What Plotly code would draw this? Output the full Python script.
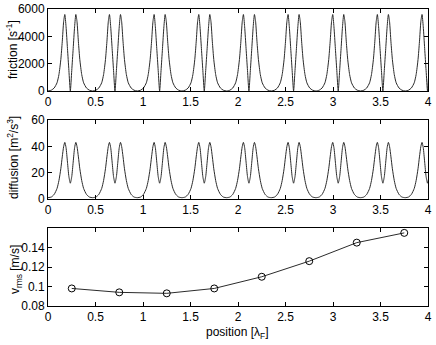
import plotly.graph_objects as go

# DATA
# cusp (sharp minimum between twin peaks) positions, in units of lambda_F
cusp_x = [0.235, 0.705, 1.175, 1.645, 2.115, 2.585, 3.055, 3.525, 3.995]
# distance from a cusp and the curve value there (same on both sides)
offset = [0, 0.015, 0.03, 0.045, 0.058, 0.07, 0.085, 0.10, 0.12, 0.14, 0.17, 0.20, 0.235]
friction_profile = [0, 1500, 3100, 4700, 5600, 5100, 3600, 2300, 1200, 600, 220, 60, 0]
diffusion_profile = [12, 17, 28, 39, 43, 40, 32, 23, 14, 8, 3.5, 1.5, 1]

position = [0.25, 0.75, 1.25, 1.75, 2.25, 2.75, 3.25, 3.75]
v_rms = [0.098, 0.094, 0.093, 0.098, 0.110, 0.126, 0.145, 0.155]

x_ticks = [0, 0.5, 1, 1.5, 2, 2.5, 3, 3.5, 4]
friction_ticks = [0, 2000, 4000, 6000]
diffusion_ticks = [0, 20, 40, 60]
vrms_ticks = [0.08, 0.1, 0.12, 0.14]


def build_curve(profile):
    xs, ys = [], []
    for i, c in enumerate(cusp_x):
        left = list(zip(offset, profile))[::-1]
        if i > 0:
            left = left[1:]  # shared broad minimum with previous period
        for d, v in left:
            xs.append(c - d)
            ys.append(v)
        for d, v in list(zip(offset, profile))[1:]:
            xs.append(c + d)
            ys.append(v)
    return xs, ys


fx, fy = build_curve(friction_profile)
dx, dy = build_curve(diffusion_profile)

W, H = 436, 345
line_col = "#2b2b2b"

fig = go.Figure()
fig.add_trace(go.Scatter(x=fx, y=fy, mode="lines", line=dict(color=line_col, width=1, shape="spline", smoothing=0.6),
                         xaxis="x", yaxis="y"))
fig.add_trace(go.Scatter(x=dx, y=dy, mode="lines", line=dict(color=line_col, width=1, shape="spline", smoothing=0.6),
                         xaxis="x2", yaxis="y2"))
fig.add_trace(go.Scatter(x=position, y=v_rms, mode="lines+markers",
                         line=dict(color=line_col, width=1),
                         marker=dict(symbol="circle-open", size=7, color="black", line=dict(width=1)),
                         xaxis="x3", yaxis="y3"))

xdom = [48 / W, 428 / W]


def ydom(top, bottom):
    return [1 - bottom / H, 1 - top / H]


ax_common = dict(showline=True, linecolor="black", linewidth=1, mirror="ticks", ticks="inside",
                 ticklen=4, tickcolor="black", showgrid=False, zeroline=False,
                 tickfont=dict(size=12, color="black"))

fig.update_layout(
    width=W, height=H,
    margin=dict(l=0, r=0, t=0, b=0),
    template="none",
    paper_bgcolor="white", plot_bgcolor="white",
    showlegend=False,
    font=dict(family="Liberation Sans, Arial, sans-serif", size=12, color="black"),
    xaxis=dict(domain=xdom, anchor="y", range=[0, 4], tickvals=x_ticks, **ax_common),
    yaxis=dict(domain=ydom(9, 91), anchor="x", range=[0, 6000], tickvals=friction_ticks, **ax_common),
    xaxis2=dict(domain=xdom, anchor="y2", range=[0, 4], tickvals=x_ticks, **ax_common),
    yaxis2=dict(domain=ydom(120, 199), anchor="x2", range=[0, 60], tickvals=diffusion_ticks, **ax_common),
    xaxis3=dict(domain=xdom, anchor="y3", range=[0, 4], tickvals=x_ticks, **ax_common),
    yaxis3=dict(domain=ydom(228, 306), anchor="x3", range=[0.08, 0.16], tickvals=vrms_ticks, **ax_common),
    annotations=[
        dict(text="friction [s<sup>-1</sup>]", x=12 / W, y=1 - 50 / H, xref="paper", yref="paper",
             textangle=-90, showarrow=False, xanchor="center", yanchor="middle"),
        dict(text="diffusion [m<sup>2</sup>/s<sup>3</sup>]", x=13 / W, y=1 - 158 / H, xref="paper", yref="paper",
             textangle=-90, showarrow=False, xanchor="center", yanchor="middle"),
        dict(text="v<sub>rms</sub> [m/s]", x=16 / W, y=1 - 270 / H, xref="paper", yref="paper",
             textangle=-90, showarrow=False, xanchor="center", yanchor="middle"),
        dict(text="position [λ<sub>F</sub>]", x=238 / W, y=1 - 333 / H, xref="paper", yref="paper",
             showarrow=False, xanchor="center", yanchor="middle"),
    ],
)

# drop the default page margin so the 436x345 figure fills the window
fig.write_html("out.html", config={"displayModeBar": False},
               post_script="document.body.style.margin='0';")
